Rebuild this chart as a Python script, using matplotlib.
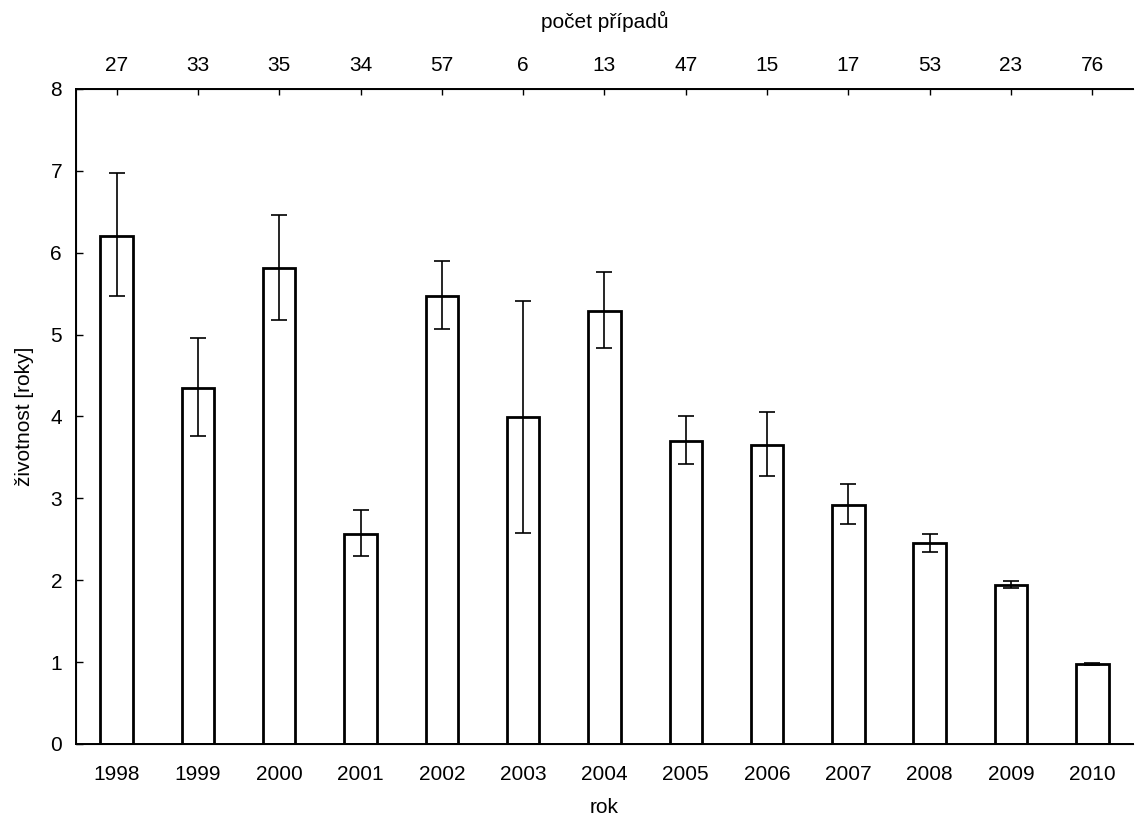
import numpy as np
import matplotlib.pyplot as plt

plt.rcParams['font.family'] = ['Liberation Sans', 'DejaVu Sans']

# data
roky = ['1998', '1999', '2000', '2001', '2002', '2003', '2004',
        '2005', '2006', '2007', '2008', '2009', '2010']
pocet = [27, 33, 35, 34, 57, 6, 13, 47, 15, 17, 53, 23, 76]
zivotnost = [6.20, 4.35, 5.81, 2.57, 5.47, 3.99, 5.29, 3.70, 3.65, 2.92, 2.45, 1.94, 0.98]
horni = [6.97, 4.96, 6.46, 2.86, 5.90, 5.41, 5.77, 4.01, 4.05, 3.17, 2.57, 1.99, 0.99]
dolni = [5.47, 3.76, 5.18, 2.30, 5.07, 2.58, 4.84, 3.42, 3.27, 2.69, 2.35, 1.90, 0.97]

x = np.arange(len(roky))
y = np.array(zivotnost)
err = [y - np.array(dolni), np.array(horni) - y]

fig = plt.figure(figsize=(11.37, 8.27), dpi=100)
ax = fig.add_axes([0.0668, 0.1004, 0.9297, 0.792])

ax.bar(x, y, width=0.4, color='white', edgecolor='black', linewidth=2.0, zorder=2)
ax.errorbar(x, y, yerr=err, fmt='none', ecolor='black', elinewidth=1.2,
            capsize=6, capthick=1.2, zorder=3)

ax.set_xlim(-0.5, 12.5)
ax.set_ylim(0, 8)
ax.set_xticks(x)
ax.set_xticklabels(roky)
ax.set_yticks(range(0, 9))

ax.spines['right'].set_visible(False)
for s in ['left', 'top', 'bottom']:
    ax.spines[s].set_linewidth(1.4)

fs = 15
ax.tick_params(axis='x', direction='in', length=4, width=1, labelsize=fs, pad=15)
ax.tick_params(axis='y', direction='in', length=5, width=1, labelsize=fs, pad=10)

ax.set_xlabel('rok', fontsize=fs, labelpad=10)
ax.set_ylabel('životnost [roky]', fontsize=fs, labelpad=12)

# horni osa s poctem pripadu
ax2 = ax.twiny()
ax2.set_xlim(ax.get_xlim())
ax2.set_xticks(x)
ax2.set_xticklabels([str(p) for p in pocet])
ax2.spines['right'].set_visible(False)
ax2.tick_params(axis='x', direction='in', length=4, width=1, labelsize=fs, pad=10)
ax2.set_xlabel('počet případů', fontsize=fs, labelpad=20)

fig.savefig('out.png', dpi=100)
